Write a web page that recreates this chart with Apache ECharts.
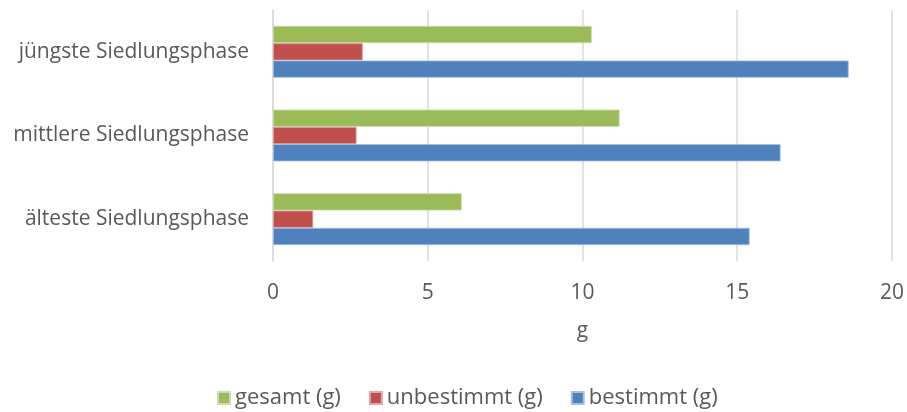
<!DOCTYPE html>
<html>
<head>
<meta charset="utf-8">
<script src="https://cdn.jsdelivr.net/npm/echarts@6/dist/echarts.min.js"></script>
<style>
html,body{margin:0;padding:0;background:#fff;}
#chart{width:907px;height:412px;}
</style>
</head>
<body>
<div id="chart"></div>
<script>
const categories = ['älteste Siedlungsphase', 'mittlere Siedlungsphase', 'jüngste Siedlungsphase'];
const gesamt = [6.1, 11.2, 10.3];
const unbestimmt = [1.3, 2.7, 2.9];
const bestimmt = [15.4, 16.4, 18.6];
const seriesNames = ['gesamt (g)', 'unbestimmt (g)', 'bestimmt (g)'];
const xTicks = { min: 0, max: 20, interval: 5 };
const axisName = 'g';

const FONT = 'Open Sans';
const TXT = '#595959';
const chart = echarts.init(document.getElementById('chart'));
chart.setOption({
  backgroundColor: '#ffffff',
  animation: false,
  textStyle: { fontFamily: FONT },
  grid: { left: 273, right: 14, top: 10, bottom: 151, containLabel: false },
  legend: {
    data: seriesNames,
    left: 212,
    top: 382,
    itemWidth: 12,
    itemHeight: 12,
    itemGap: 28,
    icon: 'rect',
    textStyle: { color: TXT, fontSize: 22, fontFamily: FONT }
  },
  xAxis: {
    type: 'value',
    min: xTicks.min, max: xTicks.max, interval: xTicks.interval,
    name: axisName,
    nameLocation: 'middle',
    nameGap: 60,
    nameTextStyle: { color: TXT, fontSize: 21, fontFamily: FONT },
    axisLine: { show: false },
    axisTick: { show: false },
    axisLabel: { color: TXT, fontSize: 21, fontFamily: FONT, margin: 22 },
    splitLine: { show: true, lineStyle: { color: '#d9d9d9', width: 1.5 } }
  },
  yAxis: {
    type: 'category',
    data: categories,
    axisLine: { show: true, lineStyle: { color: '#d9d9d9', width: 1.5 } },
    axisTick: { show: false },
    axisLabel: { color: TXT, fontSize: 21, fontFamily: FONT, margin: 24 }
  },
  series: [
    { name: seriesNames[0], type: 'bar', data: gesamt, barGap: '0%', barCategoryGap: '38%',
      itemStyle: { color: '#9BBB59', borderColor: '#cddcac', borderWidth: 0.8 } },
    { name: seriesNames[1], type: 'bar', data: unbestimmt, barGap: '0%', barCategoryGap: '38%',
      itemStyle: { color: '#C0504D', borderColor: '#dfa7a6', borderWidth: 0.8 } },
    { name: seriesNames[2], type: 'bar', data: bestimmt, barGap: '0%', barCategoryGap: '38%',
      itemStyle: { color: '#4F81BD', borderColor: '#a7c0de', borderWidth: 0.8 } }
  ]
});
</script>
</body>
</html>
